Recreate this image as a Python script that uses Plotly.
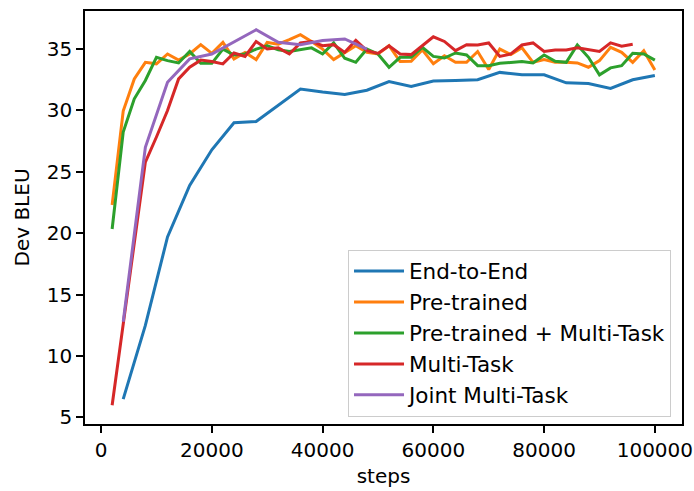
import plotly.graph_objects as go

# Training steps (evaluation points)
steps_2k = list(range(2000, 100001, 2000))      # every 2000 steps
steps_4k = list(range(4000, 100001, 4000))      # every 4000 steps

# Series names
names = ["End-to-End", "Pre-trained", "Pre-trained + Multi-Task",
         "Multi-Task", "Joint Multi-Task"]

# Dev BLEU values
end_to_end = [6.5, 12.5, 19.7, 23.9, 26.8, 29.0, 29.1, 30.4, 31.75, 31.5,
              31.3, 31.65, 32.35, 31.95, 32.4, 32.45, 32.5, 33.1, 32.9, 32.9,
              32.25, 32.2, 31.8, 32.5, 32.85]

pre_trained = [22.3, 29.95, 32.57, 33.92, 33.8, 34.6, 34.1, 34.6, 35.36, 34.65,
               35.55, 34.2, 34.73, 34.14, 35.54, 35.4, 35.76, 36.17, 35.62, 35.0,
               34.14, 34.73, 35.27, 34.73, 34.6, 35.27, 33.98, 34.0, 34.93, 33.8,
               34.45, 33.92, 33.92, 34.8, 33.33, 35.0, 34.55, 35.1, 33.92, 34.14,
               33.92, 33.92, 33.87, 33.52, 34.06, 35.14, 34.73, 33.92, 34.87, 33.3]

pre_trained_mt = [20.35, 28.25, 30.95, 32.44, 34.33, 34.06, 33.87, 34.8, 33.84, 33.84,
                  35.0, 34.52, 34.6, 35.0, 35.27, 34.95, 34.8, 34.93, 35.1, 34.6,
                  35.5, 34.25, 33.92, 35.0, 34.6, 33.52, 34.33, 34.33, 35.14, 34.4,
                  34.27, 34.68, 34.52, 33.65, 33.65, 33.84, 33.92, 33.98, 33.87, 34.52,
                  34.0, 33.92, 35.33, 34.33, 32.9, 33.47, 33.65, 34.65, 34.6, 34.1]

multi_task = [6.0, 12.6, 19.2, 25.8, 27.84, 30.0, 32.57, 33.52, 34.1, 33.98,
              33.79, 34.68, 34.4, 35.62, 35.0, 35.1, 34.6, 35.5, 35.62, 35.27,
              35.36, 34.73, 35.71, 34.87, 34.65, 35.27, 34.6, 34.55, 35.27, 36.0,
              35.62, 34.87, 35.36, 35.33, 35.5, 34.4, 34.6, 35.33, 35.5, 34.8,
              34.93, 34.93, 35.1, 34.95, 34.8, 35.5, 35.23, 35.4]

joint_mt = [12.8, 27.0, 32.3, 34.2, 34.6, 35.6, 36.57, 35.55, 35.36, 35.7,
            35.82, 35.0]

x_ticks = [0, 20000, 40000, 60000, 80000, 100000]
y_ticks = [5, 10, 15, 20, 25, 30, 35]

colors = ["#1f77b4", "#ff7f0e", "#2ca02c", "#d62728", "#9467bd"]

series = [
    (steps_4k[:len(end_to_end)], end_to_end),
    (steps_2k[:len(pre_trained)], pre_trained),
    (steps_2k[:len(pre_trained_mt)], pre_trained_mt),
    (steps_2k[:len(multi_task)], multi_task),
    (steps_4k[:len(joint_mt)], joint_mt),
]

fig = go.Figure()
for i, ((xs, ys), name) in enumerate(zip(series, names)):
    fig.add_trace(go.Scatter(
        x=xs, y=ys, mode="lines", name=name,
        line=dict(color=colors[i], width=3),
        legendgroup=f"g{i}",
    ))

font = dict(family="DejaVu Sans", size=20, color="black")
legend_font = dict(family="DejaVu Sans", size=21.5, color="black")

fig.update_layout(
    width=694, height=491,
    margin=dict(l=85, r=12, t=11, b=67),
    paper_bgcolor="white", plot_bgcolor="white",
    font=font,
    showlegend=True,
    legend=dict(
        x=0.9816, y=0.018, xanchor="right", yanchor="bottom",
        bgcolor="rgba(255,255,255,0.8)", bordercolor="#cccccc", borderwidth=1,
        font=legend_font, tracegroupgap=0, itemwidth=50,
    ),
    xaxis=dict(
        range=[-2900, 104900], tickvals=x_ticks,
        ticktext=[str(v) for v in x_ticks],
        showgrid=False, zeroline=False,
        showline=True, linecolor="black", linewidth=1.7, mirror=True,
        ticks="outside", ticklen=7, tickwidth=1.7, tickcolor="black",
        title=dict(text="steps", font=font, standoff=8),
        automargin=False,
    ),
    yaxis=dict(
        range=[4.47, 38.1], tickvals=y_ticks,
        ticktext=[str(v) for v in y_ticks],
        showgrid=False, zeroline=False,
        showline=True, linecolor="black", linewidth=1.7, mirror=True,
        ticks="outside", ticklen=7, tickwidth=1.7, tickcolor="black",
        title=dict(text="Dev BLEU", font=font, standoff=12),
        automargin=False,
    ),
)

fig.write_html("out.html",
               config={"displayModeBar": False},
               post_script="document.body.style.margin='0px';document.body.style.overflow='hidden';")
